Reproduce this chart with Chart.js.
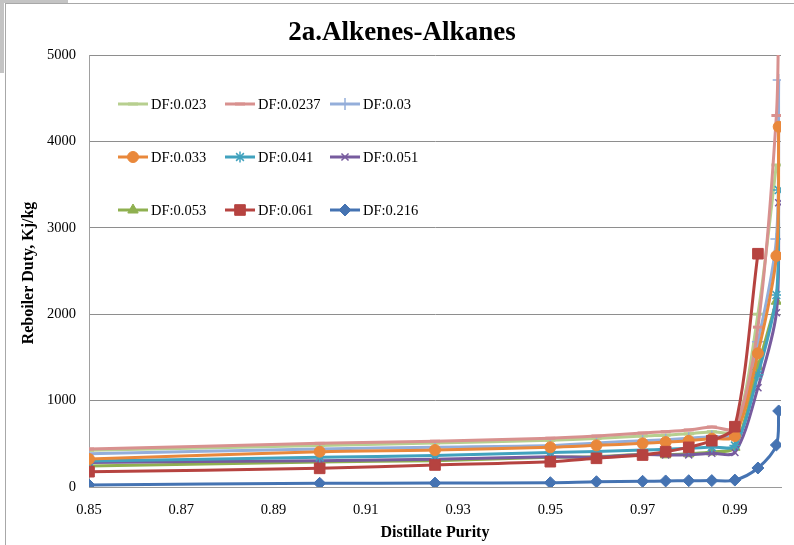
<!DOCTYPE html>
<html>
<head>
<meta charset="utf-8">
<title>2a.Alkenes-Alkanes</title>
<script src="https://cdn.jsdelivr.net/npm/chart.js@4.4.1/dist/chart.umd.min.js"></script>
<style>
  html, body { margin: 0; padding: 0; background: #ffffff; }
  body { width: 794px; height: 545px; position: relative; overflow: hidden; }
  .frame-top { position: absolute; left: 5px; top: 3px; width: 789px; height: 1px; background: #a8a8a8; }
  .frame-left { position: absolute; left: 5px; top: 3px; width: 1px; height: 542px; background: #a8a8a8; }
  .tab-top { position: absolute; left: 0; top: 0; width: 68px; height: 3px; background: #c4c4c4; }
  .tab-left { position: absolute; left: 0; top: 0; width: 4px; height: 73px; background: #c4c4c4; }
  #chart { position: absolute; left: 0; top: 0; }
</style>
</head>
<body>
<div class="tab-top"></div>
<div class="tab-left"></div>
<div class="frame-top"></div>
<div class="frame-left"></div>
<canvas id="chart" width="794" height="545"></canvas>
<script>
// Distillate purity at which each reboiler duty was computed
const purity = [0.85, 0.90, 0.925, 0.95, 0.96, 0.97, 0.975, 0.98, 0.985, 0.99, 0.995, 0.999, 0.9995];

// Reboiler duty (Kj/kg) for each distillate fraction (DF)
const df0023  = [425, 480, 510, 540, 560, 590, 600, 615, 640, 650, 2000, 3727, null];
const df00237 = [440, 505, 530, 565, 590, 625, 640, 660, 695, 682, 1850, 4300, 5600];
const df003   = [385, 440, 460, 480, 510, 535, 548, 565, 585, 615, 1680, 2870, 4711];
const df0033  = [324, 409, 428, 460, 482, 505, 520, 535, 560, 590, 1547, 2675, 4170];
const df0041  = [300, 343, 365, 400, 410, 428, 436, 448, 462, 480, 1300, 2222, 3437];
const df0051  = [285, 305, 320, 350, 345, 375, 372, 372, 390, 400, 1150, 2017, 3290];
const df0053  = [243, 290, 305, 345, 350, 378, 372, 385, 405, 460, 1392, 2150, null];
const df0061  = [177, 216, 255, 293, 332, 370, 409, 459, 536, 698, 2700, null, null];
const df0216  = [23, 43, 45, 50, 61, 66, 70, 73, 74, 80, 220, 486, 880];

const seriesLabels = ['DF:0.023', 'DF:0.0237', 'DF:0.03', 'DF:0.033', 'DF:0.041',
                      'DF:0.051', 'DF:0.053', 'DF:0.061', 'DF:0.216'];
const seriesValues = [df0023, df00237, df003, df0033, df0041, df0051, df0053, df0061, df0216];

const xTickValues = [0.85, 0.87, 0.89, 0.91, 0.93, 0.95, 0.97, 0.99];
const yTickValues = [0, 1000, 2000, 3000, 4000, 5000];

const chartTitle = '2a.Alkenes-Alkanes';
const xTitle = 'Distillate Purity';
const yTitle = 'Reboiler Duty, Kj/kg';

// Line / marker styles per series (same order as seriesLabels)
const styles = [
  { color: '#B7CF8F', point: 'line',      radius: 5,   pbw: 3,   order: 8 },
  { color: '#D8918F', point: 'line',      radius: 5,   pbw: 3,   order: 6 },
  { color: '#94AEDA', point: 'cross',     radius: 6,   pbw: 1.5, order: 7 },
  { color: '#E9883B', point: 'circle',    radius: 5.5, pbw: 1,   order: 2 },
  { color: '#41A2BE', point: 'star',      radius: 5.5, pbw: 1.5, order: 3 },
  { color: '#775B9E', point: 'crossRot',  radius: 5,   pbw: 1.5, order: 4 },
  { color: '#8FB050', point: 'triangle',  radius: 6,   pbw: 1,   order: 5 },
  { color: '#B64340', point: 'rect',      radius: 7.5, pbw: 1,   order: 1 },
  { color: '#4573B2', point: 'rectRot',   radius: 6,   pbw: 1,   order: 9 }
];

const datasets = seriesValues.map((vals, i) => ({
  label: seriesLabels[i],
  data: purity.map((x, j) => ({ x: x, y: vals[j] })).filter(p => p.y !== null),
  borderColor: styles[i].color,
  backgroundColor: styles[i].color,
  borderWidth: 3,
  pointStyle: styles[i].point,
  pointRadius: styles[i].radius,
  pointBorderWidth: styles[i].pbw,
  pointBorderColor: styles[i].color,
  pointBackgroundColor: styles[i].color,
  tension: 0.3,
  order: styles[i].order
}));

const serif = '"Liberation Serif", "Times New Roman", serif';

// Titles and the in-plot legend, drawn on the chart canvas
const decorations = {
  id: 'decorations',
  afterDraw(chart) {
    const ctx = chart.ctx;
    ctx.save();
    ctx.fillStyle = '#000';
    ctx.textAlign = 'center';
    ctx.textBaseline = 'middle';
    ctx.font = 'bold 27px ' + serif;
    ctx.fillText(chartTitle, 402, 33);
    ctx.font = 'bold 16px ' + serif;
    ctx.fillText(xTitle, 435, 533);
    ctx.save();
    ctx.translate(29, 273);
    ctx.rotate(-Math.PI / 2);
    ctx.fillText(yTitle, 0, 0);
    ctx.restore();

    // legend: 3 x 3 grid
    const colX = [118, 225, 330];
    const rowY = [104, 157, 210];
    const lineLen = 30;
    ctx.font = '14.5px ' + serif;
    ctx.textAlign = 'left';
    seriesLabels.forEach((lab, i) => {
      const st = styles[i];
      const x0 = colX[i % 3];
      const y0 = rowY[Math.floor(i / 3)];
      ctx.strokeStyle = st.color;
      ctx.lineWidth = 3;
      ctx.beginPath();
      ctx.moveTo(x0, y0);
      ctx.lineTo(x0 + lineLen, y0);
      ctx.stroke();
      if (Chart.helpers && Chart.helpers.drawPoint) {
        ctx.fillStyle = st.color;
        ctx.strokeStyle = st.color;
        ctx.lineWidth = st.pbw;
        Chart.helpers.drawPoint(ctx, {
          pointStyle: st.point, radius: st.radius, rotation: 0, borderWidth: st.pbw
        }, x0 + lineLen / 2, y0);
      }
      ctx.fillStyle = '#000';
      ctx.fillText(lab, x0 + lineLen + 3, y0 + 1);
    });
    ctx.restore();
  }
};

new Chart(document.getElementById('chart'), {
  type: 'line',
  data: { datasets: datasets },
  options: {
    responsive: false,
    animation: false,
    devicePixelRatio: 1,
    layout: { padding: { left: 6, top: 55, right: 13, bottom: 0 } },
    plugins: {
      legend: { display: false },
      title: { display: false },
      tooltip: { enabled: false }
    },
    scales: {
      x: {
        type: 'linear',
        min: 0.85,
        max: 1.0,
        afterBuildTicks: (scale) => { scale.ticks = xTickValues.map(v => ({ value: v })); },
        afterFit: (scale) => { scale.height = 58; },
        grid: { display: false, drawTicks: false },
        border: { display: true, color: '#9a9a9a', width: 1 },
        ticks: {
          padding: 14,
          color: '#000',
          maxRotation: 0,
          autoSkip: false,
          font: { family: serif, size: 14.5 },
          callback: (v) => Number(v).toFixed(2)
        }
      },
      y: {
        type: 'linear',
        min: 0,
        max: 5000,
        afterBuildTicks: (scale) => { scale.ticks = yTickValues.map(v => ({ value: v })); },
        afterFit: (scale) => { scale.width = 83; },
        grid: { color: '#8e8e8e', lineWidth: 1, drawTicks: false },
        border: { display: true, color: '#a0a0a0', width: 1 },
        ticks: {
          padding: 13,
          color: '#000',
          font: { family: serif, size: 14.5 },
          callback: (v) => String(v)
        }
      }
    }
  },
  plugins: [decorations]
});
</script>
</body>
</html>
